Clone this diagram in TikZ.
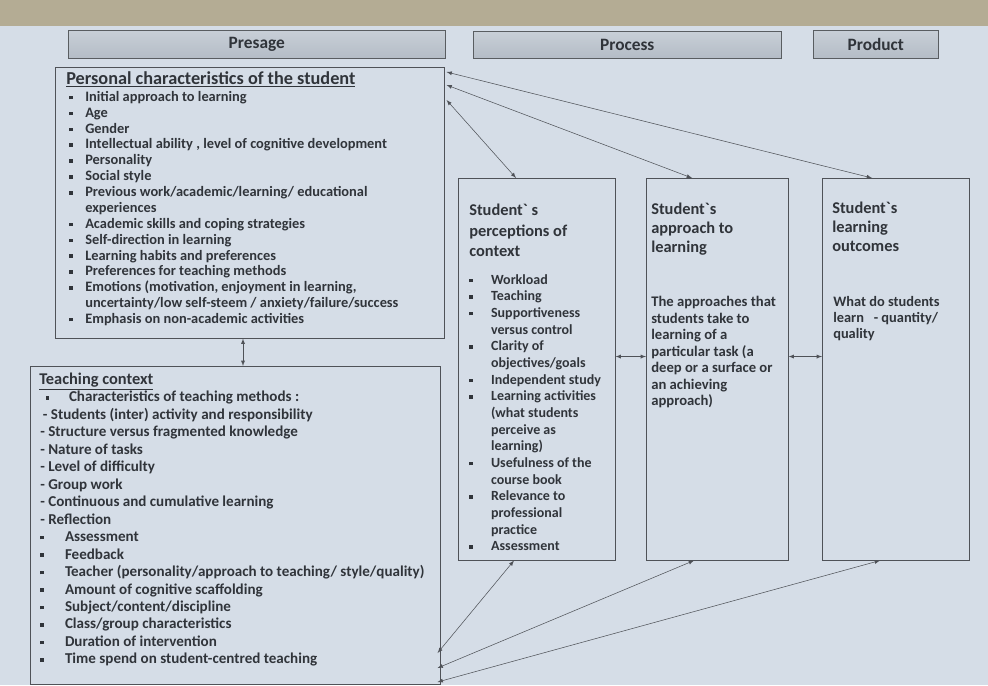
\documentclass[tikz,border=0pt]{standalone}
\usepackage{fontspec}
\setmainfont{Carlito}
\usetikzlibrary{arrows,positioning,calc}
\definecolor{paper}{RGB}{213,221,231}
\definecolor{wall}{RGB}{180,172,148}
\definecolor{ink}{RGB}{48,52,58}
\definecolor{bandtop}{RGB}{200,207,215}
\definecolor{bandbot}{RGB}{180,188,198}
\newcommand{\sqb}{\raisebox{0.3ex}{\rule{2.6pt}{2.6pt}}}
\newcommand{\itm}[1][12pt]{\makebox[#1][l]{\sqb}}
\newcommand{\cnt}[1][12pt]{\hspace*{#1}}
\newcommand{\bq}{\textasciigrave}
\tikzstyle{band}=[
	rectangle,
	draw=ink!80,
	top color=bandtop,
	bottom color=bandbot,
	anchor=north west,
	inner sep=0pt,
	text=ink,
	font=\bfseries\fontsize{13}{15}\selectfont
]
\tikzstyle{panel}=[
	rectangle,
	draw=ink!85,
	anchor=north west,
	inner sep=0pt
]
\tikzstyle{listtext}=[
	anchor=north west,
	align=left,
	inner sep=0pt,
	text=ink
]
\tikzstyle{link}=[
	<->,
	>=latex,
	draw=ink!85
]

\begin{document}
\begin{tikzpicture}[x=0.75pt,y=-0.75pt]
% paper and wall
\fill [paper] (0,0) rectangle (988,685);
\fill [wall] (0,0) rectangle (988,26);

% stages
\node [band, minimum width=282.75pt, minimum height=21pt] (Presage) at (68,30) {Presage};
\node [band, minimum width=231pt, minimum height=20pt] (Process) at (473,31) {Process};
\node [band, minimum width=93.75pt, minimum height=21pt] (Product) at (813,30) {Product};

% presage boxes
\node [panel, minimum width=291.75pt, minimum height=203.25pt] (Personal) at (55,67) {};
\node [listtext, font=\bfseries\fontsize{13.7}{15}\selectfont] (PersonalTitle) at (66,71) {\underline{Personal characteristics of the student}};
\node [listtext, font=\bfseries\fontsize{10.8}{11.9}\selectfont] (PersonalList) at (69,91) {
\itm Initial approach to learning\\
\itm Age\\
\itm Gender\\
\itm Intellectual ability , level of cognitive development\\
\itm Personality\\
\itm Social style\\
\itm Previous work/academic/learning/ educational\\
\cnt experiences\\
\itm Academic skills and coping strategies\\
\itm Self-direction in learning\\
\itm Learning habits and preferences\\
\itm Preferences for teaching methods\\
\itm Emotions (motivation, enjoyment in learning,\\
\cnt uncertainty/low self-steem / anxiety/failure/success\\
\itm Emphasis on non-academic activities};

\node [panel, minimum width=307.5pt, minimum height=238.5pt] (Teaching) at (30,366) {};
\node [listtext, font=\bfseries\fontsize{12.3}{15}\selectfont] (TeachingTitle) at (39,373) {\underline{Teaching context}};
\node [listtext, font=\bfseries\fontsize{11.3}{13.1}\selectfont] (TeachingList) at (40,391) {
\hspace*{4pt}\itm[15pt] Characteristics of teaching methods :\\
\hspace*{2pt}- Students (inter) activity and responsibility\\
- Structure versus fragmented knowledge\\
- Nature of tasks\\
- Level of difficulty\\
- Group work\\
- Continuous and cumulative learning\\
- Reflection\\
\itm[16pt] Assessment\\
\itm[16pt] Feedback\\
\itm[16pt] Teacher (personality/approach to teaching/ style/quality)\\
\itm[16pt] Amount of cognitive scaffolding\\
\itm[16pt] Subject/content/discipline\\
\itm[16pt] Class/group characteristics\\
\itm[16pt] Duration of intervention\\
\itm[16pt] Time spend on student-centred teaching};

% process and product boxes
\node [panel, minimum width=117.75pt, minimum height=286.5pt] (Perception) at (458,178) {};
\node [listtext, font=\bfseries\fontsize{12.3}{15.4}\selectfont] (PerceptionTitle) at (469,204) {Student\bq{} s\\perceptions of\\context};
\node [listtext, font=\bfseries\fontsize{10.5}{12.5}\selectfont] (PerceptionList) at (469,274) {
\itm[14pt] Workload\\
\itm[14pt] Teaching\\
\itm[14pt] Supportiveness\\
\cnt[14pt] versus control\\
\itm[14pt] Clarity of\\
\cnt[14pt] objectives/goals\\
\itm[14pt] Independent study\\
\itm[14pt] Learning activities\\
\cnt[14pt] (what students\\
\cnt[14pt] perceive as\\
\cnt[14pt] learning)\\
\itm[14pt] Usefulness of the\\
\cnt[14pt] course book\\
\itm[14pt] Relevance to\\
\cnt[14pt] professional\\
\cnt[14pt] practice\\
\itm[14pt] Assessment};

\node [panel, minimum width=106.5pt, minimum height=286.5pt] (Approach) at (646,178) {};
\node [listtext, font=\bfseries\fontsize{12.3}{14.3}\selectfont] (ApproachTitle) at (651,203) {Student\bq{}s\\approach to\\learning};
\node [listtext, font=\bfseries\fontsize{11}{12.4}\selectfont] (ApproachText) at (651,296) {The approaches that\\students take to\\learning of a\\particular task (a\\deep or a surface or\\an achieving\\approach)};

\node [panel, minimum width=110pt, minimum height=286.5pt] (Outcome) at (822,178) {};
\node [listtext, font=\bfseries\fontsize{12.3}{14.3}\selectfont] (OutcomeTitle) at (832,202) {Student\bq{}s\\learning\\outcomes};
\node [listtext, font=\bfseries\fontsize{10.8}{12}\selectfont] (OutcomeText) at (833,296) {What do students\\learn \ \ - quantity/\\quality};

% links
\draw [link] ($(Personal.south west)+(188,0)$) -- ($(Teaching.north west)+(213,0)$);
\draw [link] ($(Perception.south east)+(0,-204)$) -- ($(Approach.south west)+(0,-204)$);
\draw [link] ($(Approach.south east)+(0,-204)$) -- ($(Outcome.south west)+(0,-204)$);
\draw [link] ($(Personal.north east)+(2,33)$) -- ($(Perception.north west)+(58,0)$);
\draw [link] ($(Personal.north east)+(2,18)$) -- ($(Approach.north west)+(46,0)$);
\draw [link] ($(Personal.north east)+(2,5)$) -- ($(Outcome.north west)+(50,0)$);
\draw [link] ($(Teaching.north east)+(-3,287)$) -- ($(Perception.south west)+(56,0)$);
\draw [link] ($(Teaching.north east)+(-3,302)$) -- ($(Approach.south west)+(48,0)$);
\draw [link] ($(Teaching.north east)+(-3,316)$) -- ($(Outcome.south west)+(58,0)$);
\end{tikzpicture}
\end{document}
